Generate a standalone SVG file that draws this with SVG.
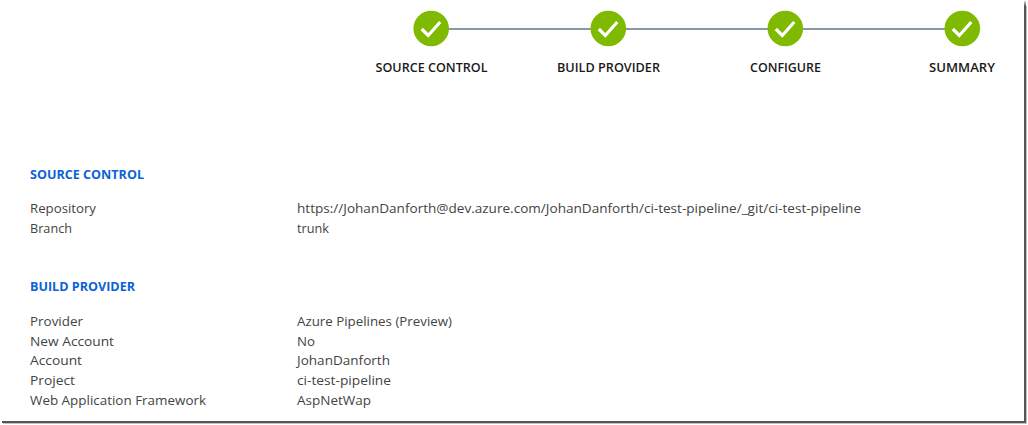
<svg xmlns="http://www.w3.org/2000/svg" width="1028" height="425" viewBox="0 0 1028 425">
<defs>
<linearGradient id="fadeTop" x1="0" y1="0" x2="0" y2="1"><stop offset="0" stop-color="#555" stop-opacity="0"/><stop offset="1" stop-color="#555"/></linearGradient>
<g id="check"><circle r="17.800" fill="#7fba00"/><path d="M-9.500 0.500L-3 7L9 -6.500" fill="none" stroke="#fff" stroke-width="3.200"/></g>
</defs>
<style>
text{font-family:"Open Sans","Noto Sans","Liberation Sans",sans-serif;font-size:13.200px;fill:#444}
.s{font-weight:600;font-size:12.500px;fill:#1a1a1a;text-anchor:middle}
.h{font-weight:700;font-size:12.500px;fill:#0b62d6}
.c{stroke:#8a97a8;stroke-width:2;fill:none}
</style>
<rect width="1028" height="425" fill="#fff"/>
<rect x="1024" y="0" width="2" height="6" fill="url(#fadeTop)"/>
<rect x="1024" y="6" width="2" height="417" fill="#555"/>
<rect x="1026" y="6" width="1" height="418" fill="#c4c4c4"/>
<rect x="2" y="421" width="1024" height="2" fill="#555"/>
<rect x="3" y="423" width="1024" height="1" fill="#c4c4c4"/>
<g id="connectors"><path class="c" d="M431 29H962"/></g>
<g id="step-source-control"><use href="#check" x="431.200" y="28.500"/><text class="s" x="431.500" y="71.500" textLength="112" lengthAdjust="spacingAndGlyphs">SOURCE CONTROL</text></g>
<g id="step-build-provider"><use href="#check" x="608.300" y="28.500"/><text class="s" x="608.500" y="71.500" textLength="103" lengthAdjust="spacingAndGlyphs">BUILD PROVIDER</text></g>
<g id="step-configure"><use href="#check" x="785.300" y="28.500"/><text class="s" x="785.500" y="71.500" textLength="71" lengthAdjust="spacingAndGlyphs">CONFIGURE</text></g>
<g id="step-summary"><use href="#check" x="962.300" y="28.500"/><text class="s" x="962" y="71.500" textLength="66" lengthAdjust="spacingAndGlyphs">SUMMARY</text></g>
<g id="section-source-control">
<text class="h" x="30" y="179" textLength="114" lengthAdjust="spacingAndGlyphs">SOURCE CONTROL</text>
<text x="30" y="213" textLength="66" lengthAdjust="spacingAndGlyphs">Repository</text>
<text x="297" y="213" textLength="564" lengthAdjust="spacingAndGlyphs">https://JohanDanforth@dev.azure.com/JohanDanforth/ci-test-pipeline/_git/ci-test-pipeline</text>
<text x="30" y="233" textLength="42" lengthAdjust="spacingAndGlyphs">Branch</text>
<text x="297" y="233" textLength="32" lengthAdjust="spacingAndGlyphs">trunk</text>
</g>
<g id="section-build-provider">
<text class="h" x="30" y="291" textLength="105" lengthAdjust="spacingAndGlyphs">BUILD PROVIDER</text>
<text x="30" y="326" textLength="53" lengthAdjust="spacingAndGlyphs">Provider</text>
<text x="297" y="326" textLength="155" lengthAdjust="spacingAndGlyphs">Azure Pipelines (Preview)</text>
<text x="30" y="346" textLength="84" lengthAdjust="spacingAndGlyphs">New Account</text>
<text x="297" y="346" textLength="18" lengthAdjust="spacingAndGlyphs">No</text>
<text x="30" y="365" textLength="52" lengthAdjust="spacingAndGlyphs">Account</text>
<text x="297" y="365" textLength="93" lengthAdjust="spacingAndGlyphs">JohanDanforth</text>
<text x="30" y="385" textLength="45" lengthAdjust="spacingAndGlyphs">Project</text>
<text x="297" y="385" textLength="94" lengthAdjust="spacingAndGlyphs">ci-test-pipeline</text>
<text x="30" y="405" textLength="176" lengthAdjust="spacingAndGlyphs">Web Application Framework</text>
<text x="297" y="405" textLength="74" lengthAdjust="spacingAndGlyphs">AspNetWap</text>
</g>
</svg>
